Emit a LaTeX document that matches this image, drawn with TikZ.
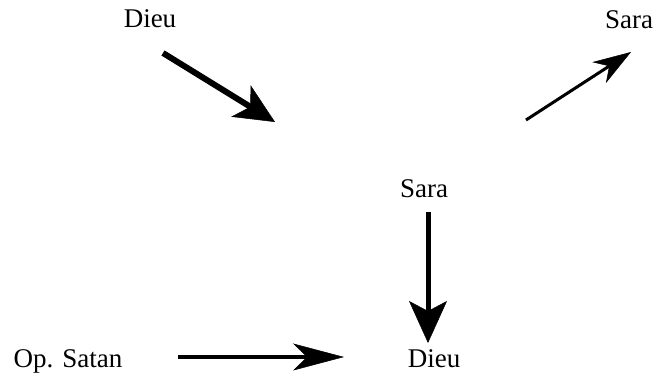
\documentclass[tikz,border=0pt]{standalone}
\usepackage{fontspec}
\setmainfont{Liberation Serif}
\usetikzlibrary{arrows.meta}
\begin{document}
\begin{tikzpicture}[x=1pt,y=-1pt,
  lbl/.style={anchor=base,inner sep=0pt,font=\fontsize{27}{30}\selectfont},
  conn/.style={draw=black}]
\useasboundingbox (0,0) rectangle (656,377);
\node[lbl] (dieu1) at (150,28) {Dieu};
\node[lbl] (sara1) at (629,29) {Sara};
\node[lbl] (sara2) at (424,197) {Sara};
\node[lbl] (satan) at (68,367) {Op. Satan};
\node[lbl] (dieu2) at (434,367) {Dieu};
\coordinate (a1s) at (163,53);
\coordinate (a1e) at (275,122);
\coordinate (a2s) at (526,120);
\coordinate (a2e) at (631,52);
\coordinate (a3s) at (428,212);
\coordinate (a3e) at (428,343);
\coordinate (a4s) at (178,357);
\coordinate (a4e) at (344,357);
\draw[conn,line width=6pt,-{Stealth[length=40pt,width=37pt,inset=11pt,line width=0.5pt]}] (a1s) -- (a1e);
\draw[conn,line width=3pt,-{Stealth[length=38pt,width=25pt,inset=12pt,line width=0.5pt]}] (a2s) -- (a2e);
\draw[conn,line width=5pt,-{Stealth[length=42pt,width=38pt,inset=10pt,line width=0.5pt]}] (a3s) -- (a3e);
\draw[conn,line width=4pt,-{Stealth[length=51pt,width=27pt,inset=14pt,line width=0.5pt]}] (a4s) -- (a4e);
\end{tikzpicture}
\end{document}
